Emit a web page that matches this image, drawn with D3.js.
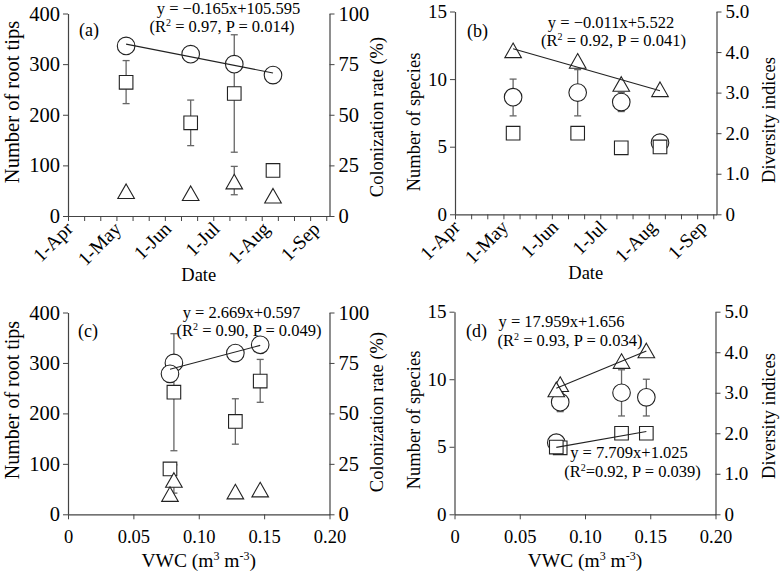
<!DOCTYPE html>
<html><head><meta charset="utf-8">
<script src="https://cdn.jsdelivr.net/npm/d3@7"></script>
<style>
body{margin:0;background:#fff}
text{font-family:"Liberation Serif","Times New Roman",serif;fill:#000}
</style>
</head><body>
<svg id="chart" width="780" height="575"></svg>
<script>
// ---------------- data ----------------
const sampleDates = ["2013-05-07", "2013-06-16", "2013-07-13", "2013-08-06"];
const vwc = [0.147, 0.128, 0.081, 0.078];

const monthLabels = ["1-Apr", "1-May", "1-Jun", "1-Jul", "1-Aug", "1-Sep"];
const monthDates = ["2013-04-01", "2013-05-01", "2013-06-01", "2013-07-01", "2013-08-01", "2013-09-01"];
const dateDomain = ["2013-04-01", "2013-09-10"];
const vwcTicks = [0, 0.05, 0.10, 0.15, 0.20];
const vwcTickLabels = ["0", "0.05", "0.10", "0.15", "0.20"];

const rootTicks = [0, 100, 200, 300, 400];
const colonTicks = [0, 25, 50, 75, 100];
const speciesTicks = [0, 5, 10, 15];
const diversityTicks = [0, 1, 2, 3, 4, 5];
const diversityTickLabels = ["0", "1.0", "2.0", "3.0", "4.0", "5.0"];

// panels (a),(c): number of root tips (left) and colonization rate (right)
const rootSquare   = [264, 184, 242, 90];
const rootSquareLo = [222, 139, 126, null];
const rootSquareHi = [307, 229, 358, null];
const rootTri      = [48, 44, 67, 39];
const rootTriLo    = [null, null, 42, null];
const rootTriHi    = [null, null, 98, null];
const colonRate    = [84.0, 79.9, 75.0, 69.6];
const colonLo      = [null, null, null, 65.6];
const colonHi      = [null, null, null, 73.3];

// panels (b),(d): number of species (left) and diversity indices (right)
const speciesCircle   = [8.66, 9.0, 8.3, 5.3];
const speciesCircleLo = [7.28, 7.28, 7.6, null];
const speciesCircleHi = [10.0, 10.7, 9.0, null];
const diversitySquare = [2.0, 2.0, 1.64, 1.66];
const diversityTri    = [4.03, 3.77, 3.2, 3.07];

const eqA = ["y = \u22120.165x+105.595", "0.97", "0.014"];
const eqB = ["y = \u22120.011x+5.522", "0.92", "0.041"];
const eqC = ["y = 2.669x+0.597", "0.90", "0.049"];
const eqD1 = ["y = 17.959x+1.656", "0.93", "0.034"];
const eqD2 = ["y = 7.709x+1.025", "0.92", "0.039"];

// ---------------- drawing ----------------
const svg = d3.select("#chart");
const parse = d3.utcParse("%Y-%m-%d");
const dates = sampleDates.map(parse);
const AX = "#444", EB = "#666";
const EQFS = 16.5;

function linfit(xs, ys) {
  const n = xs.length, mx = d3.mean(xs), my = d3.mean(ys);
  let sxy = 0, sxx = 0;
  for (let i = 0; i < n; i++) { sxy += (xs[i] - mx) * (ys[i] - my); sxx += (xs[i] - mx) ** 2; }
  const b = sxy / sxx; return { b, a: my - b * mx };
}

function panel(cfg) {
  const g = svg.append("g");
  const { L, R, T, B } = cfg;
  const yl = d3.scaleLinear().domain(cfg.ylDomain).range([B, T]);
  const yr = d3.scaleLinear().domain(cfg.yrDomain).range([B, T]);
  let x;
  if (cfg.isDate) {
    x = d3.scaleUtc().domain(dateDomain.map(parse)).range([L, R]);
    const start = parse(dateDomain[0]);
    const minor = d3.range(0, 170, 10).map(d => d3.utcDay.offset(start, d)).filter(d => d <= x.domain()[1]);
    const ax = g.append("g").attr("transform", `translate(0,${B})`)
      .call(d3.axisBottom(x).tickValues(minor).tickSize(5).tickSizeOuter(0).tickFormat(""));
    ax.select(".domain").attr("stroke", AX).attr("stroke-width", 1.2);
    ax.selectAll(".tick line").attr("stroke", AX);
    const md = monthDates.map(parse);
    g.selectAll(".mlab").data(md).join("text")
      .attr("font-size", 19.5).attr("text-anchor", "end")
      .attr("transform", (d) => `translate(${x(d) + 6},${B + 14}) rotate(-45)`)
      .text((d, i) => monthLabels[i]);
    g.append("text").attr("x", (L + R) / 2).attr("y", B + 65).attr("text-anchor", "middle")
      .attr("font-size", 18.5).text("Date");
  } else {
    x = d3.scaleLinear().domain([0, 0.2]).range([L, R]);
    const ax = g.append("g").attr("transform", `translate(0,${B})`)
      .call(d3.axisBottom(x).tickValues(vwcTicks).tickSize(5).tickSizeOuter(0)
        .tickFormat((d, i) => vwcTickLabels[i]));
    ax.select(".domain").attr("stroke", AX).attr("stroke-width", 1.2);
    ax.selectAll(".tick line").attr("stroke", AX);
    ax.selectAll(".tick text").attr("font-size", 18.5).attr("font-family", null).attr("fill", "#000").attr("dy", "1.1em");
    const t = g.append("text").attr("x", (L + R) / 2).attr("y", B + 53).attr("text-anchor", "middle")
      .attr("font-size", 19.5);
    t.append("tspan").text("VWC (m");
    t.append("tspan").attr("font-size", 12).attr("dy", -7).text("3");
    t.append("tspan").attr("dy", 7).text(" m");
    t.append("tspan").attr("font-size", 12).attr("dy", -7).text("-3");
    t.append("tspan").attr("dy", 7).text(")");
  }
  const axl = g.append("g").attr("transform", `translate(${L},0)`)
    .call(d3.axisLeft(yl).tickValues(cfg.ylTicks).tickSize(5).tickSizeOuter(0).tickFormat((d, i) => cfg.ylLabels[i]));
  const axr = g.append("g").attr("transform", `translate(${R},0)`)
    .call(d3.axisRight(yr).tickValues(cfg.yrTicks).tickSize(5).tickSizeOuter(0).tickFormat((d, i) => cfg.yrLabels[i]));
  [axl, axr].forEach(a => {
    a.select(".domain").attr("stroke", AX).attr("stroke-width", 1.2);
    a.selectAll(".tick line").attr("stroke", AX);
    a.selectAll(".tick text").attr("font-size", cfg.tickFs).attr("font-family", null).attr("fill", "#000");
  });
  axl.selectAll(".tick text").attr("x", -8);
  axr.selectAll(".tick text").attr("x", 9);

  // titles
  g.append("text").attr("transform", `translate(${cfg.ltX},${cfg.ltY}) rotate(-90)`).attr("text-anchor", "middle")
    .attr("font-size", cfg.ltFs).text(cfg.ylTitle);
  g.append("text").attr("transform", `translate(${cfg.rtX},${cfg.rtY}) rotate(-90)`).attr("text-anchor", "middle")
    .attr("font-size", 18.5).text(cfg.yrTitle);

  const xs = cfg.isDate ? dates : vwc;
  // series
  const drawErr = (vals, lo, hi, sc) => {
    vals.forEach((v, i) => {
      if (lo[i] == null) return;
      const px = x(xs[i]);
      g.append("line").attr("x1", px).attr("x2", px).attr("y1", sc(lo[i])).attr("y2", sc(hi[i]))
        .attr("stroke", EB).attr("stroke-width", 1.3);
      [lo[i], hi[i]].forEach(e => g.append("line").attr("x1", px - 3.5).attr("x2", px + 3.5)
        .attr("y1", sc(e)).attr("y2", sc(e)).attr("stroke", EB).attr("stroke-width", 1.3));
    });
  };
  const markers = (vals, sc, shape) => {
    g.selectAll(null).data(vals).join(shape === "circle" ? "circle" : "path")
      .each(function (v, i) {
        const px = x(xs[i]), py = sc(v), s = d3.select(this);
        if (shape === "circle") s.attr("cx", px).attr("cy", py).attr("r", 8.8);
        else if (shape === "square") s.attr("d", `M${px - 6.8},${py - 6.8}h13.6v13.6h-13.6Z`);
        else s.attr("d", `M${px},${py - 7.8}L${px + 8.3},${py + 6.8}L${px - 8.3},${py + 6.8}Z`);
      })
      .attr("fill", "#fff").attr("stroke", "#222").attr("stroke-width", 1.1);
  };
  const fitLine = (vals, sc) => {
    const xn = xs.map(d => +d);
    const f = linfit(xn, vals);
    const x0 = d3.min(xn), x1 = d3.max(xn);
    g.append("line").attr("x1", x(x0)).attr("x2", x(x1))
      .attr("y1", sc(f.a + f.b * x0)).attr("y2", sc(f.a + f.b * x1))
      .attr("stroke", "#222").attr("stroke-width", 1.1);
  };
  cfg.series(drawErr, markers, fitLine, yl, yr);

  // labels
  g.append("text").attr("x", cfg.tag[1]).attr("y", cfg.tag[2]).attr("font-size", 18).text(cfg.tag[0]);
  cfg.eqs.forEach(e => {
    g.append("text").attr("x", e.x).attr("y", e.y).attr("text-anchor", "middle").attr("font-size", EQFS).text(e.eq[0]);
    const t = g.append("text").attr("x", e.x2).attr("y", e.y + e.dy).attr("text-anchor", "middle").attr("font-size", EQFS);
    t.append("tspan").text("(R");
    t.append("tspan").attr("font-size", 10).attr("dy", -6).text("2");
    t.append("tspan").attr("dy", 6).text((e.tight ? "=" : " = ") + e.eq[1] + ", P = " + e.eq[2] + ")");
  });
}

const seriesAC = (drawErr, markers, fitLine, yl, yr) => {
  drawErr(rootSquare, rootSquareLo, rootSquareHi, yl);
  drawErr(rootTri, rootTriLo, rootTriHi, yl);
  drawErr(colonRate, colonLo, colonHi, yr);
  markers(colonRate, yr, "circle");
  markers(rootSquare, yl, "square");
  markers(rootTri, yl, "tri");
  fitLine(colonRate, yr);
};
const seriesBD = (fitBoth) => (drawErr, markers, fitLine, yl, yr) => {
  drawErr(speciesCircle, speciesCircleLo, speciesCircleHi, yl);
  markers(speciesCircle, yl, "circle");
  markers(diversitySquare, yr, "square");
  markers(diversityTri, yr, "tri");
  fitLine(diversityTri, yr);
  if (fitBoth) fitLine(diversitySquare, yr);
};

panel({ L: 68, R: 329.5, T: 13.5, B: 216, isDate: true, tickFs: 20.5, ltFs: 20.5,
  ylDomain: [0, 400], yrDomain: [0, 100], ylTicks: rootTicks, ylLabels: rootTicks.map(String),
  yrTicks: colonTicks, yrLabels: colonTicks.map(String),
  ylTitle: "Number of root tips", yrTitle: "Colonization rate (%)", ltX: 19, ltY: 102, rtX: 383, rtY: 117,
  series: seriesAC, tag: ["(a)", 79, 36],
  eqs: [{ eq: eqA, x: 228.5, y: 14, x2: 222, dy: 18 }] });

panel({ L: 455, R: 716.5, T: 11.5, B: 214.3, isDate: true, tickFs: 19, ltFs: 18.5,
  ylDomain: [0, 15], yrDomain: [0, 5], ylTicks: speciesTicks, ylLabels: speciesTicks.map(String),
  yrTicks: diversityTicks, yrLabels: diversityTickLabels,
  ylTitle: "Number of species", yrTitle: "Diversity indices", ltX: 420, ltY: 122, rtX: 775, rtY: 120,
  series: seriesBD(false), tag: ["(b)", 467, 37],
  eqs: [{ eq: eqB, x: 611, y: 28, x2: 613.5, dy: 18 }] });

panel({ L: 68, R: 329.5, T: 312.5, B: 514.3, isDate: false, tickFs: 20.5, ltFs: 20,
  ylDomain: [0, 400], yrDomain: [0, 100], ylTicks: rootTicks, ylLabels: rootTicks.map(String),
  yrTicks: colonTicks, yrLabels: colonTicks.map(String),
  ylTitle: "Number of root tips", yrTitle: "Colonization rate (%)", ltX: 19, ltY: 400, rtX: 383, rtY: 412,
  series: seriesAC, tag: ["(c)", 78, 337],
  eqs: [{ eq: eqC, x: 241.5, y: 317.5, x2: 249, dy: 18 }] });

panel({ L: 454.5, R: 715.5, T: 311.7, B: 514.3, isDate: false, tickFs: 19, ltFs: 18.5,
  ylDomain: [0, 15], yrDomain: [0, 5], ylTicks: speciesTicks, ylLabels: speciesTicks.map(String),
  yrTicks: diversityTicks, yrLabels: diversityTickLabels,
  ylTitle: "Number of species", yrTitle: "Diversity indices", ltX: 420, ltY: 420, rtX: 775, rtY: 416,
  series: seriesBD(true), tag: ["(d)", 466, 337],
  eqs: [{ eq: eqD1, x: 561.5, y: 327, x2: 570, dy: 19 },
        { eq: eqD2, x: 629, y: 458, x2: 632.5, dy: 19, tight: true }] });
</script>
</body></html>
